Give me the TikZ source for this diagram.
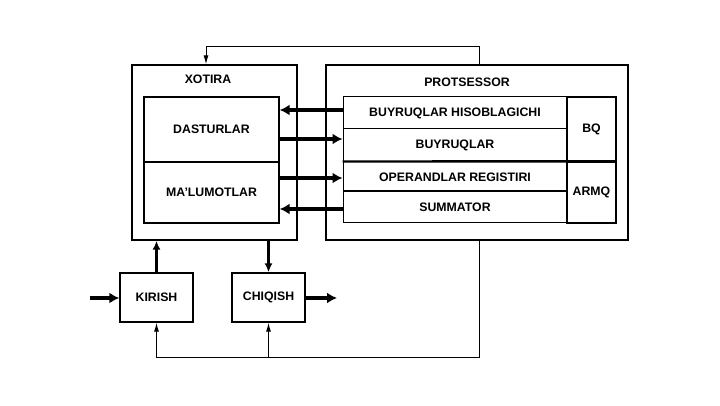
\documentclass[tikz,border=0pt]{standalone}
\usepackage{fontspec}
\setmainfont{Liberation Sans}
\usetikzlibrary{arrows.meta,positioning,calc}
\tikzset{%
  >={Latex[width=2mm,length=2mm]},
  % Specifications for style of nodes:
       base/.style = {rectangle, draw=black, inner sep=0pt,
                      text centered, font=\bfseries\fontsize{12.3}{14}\selectfont},
     outbox/.style = {base, line width=1.4pt},
      inbox/.style = {base, line width=1.3pt},
   blockbox/.style = {base, line width=1.4pt, minimum width=73pt, minimum height=49pt},
      title/.style = {inner sep=0pt, font=\bfseries\fontsize{12.3}{14}\selectfont},
  % Specifications for style of connectors:
        bus/.style = {line width=3.4pt, -{Latex[width=11pt,length=10pt]}},
     feeder/.style = {line width=2.8pt, -{Latex[width=8pt,length=9pt]}},
       link/.style = {line width=1pt, -{Latex[width=5pt,length=9pt]}},
}

\begin{document}
\begin{tikzpicture}[x=1pt, y=-1pt]
  \useasboundingbox[fill=white] (0,0) rectangle (720,406);
  % Specification of nodes (position, etc.)
  \node (xotira)  [outbox, minimum width=165pt, minimum height=175pt] at (214.5,152.5) {};
  \node (xottitle) [title] at (208,79) {XOTIRA};
  \node (dastur)  [inbox, minimum width=135pt, minimum height=65pt] at (211.5,129.5) {DASTURLAR};
  \node (malumot) [inbox, minimum width=135pt, minimum height=61pt] at (211.5,192.5) {MA'LUMOTLAR};

  \node (prots)   [outbox, minimum width=302pt, minimum height=175pt] at (477,152.5) {};
  \node (prottitle) [title] at (467,82) {PROTSESSOR};
  \node (bh)      [inbox, line width=1pt, minimum width=224pt, minimum height=32pt] at (455,113) {BUYRUQLAR HISOBLAGICHI};
  \node (buyr)    [inbox, line width=1pt, minimum width=224pt, minimum height=33pt] at (455,145.5) {BUYRUQLAR};
  \node (opreg)   [inbox, line width=1pt, minimum width=224pt, minimum height=30pt] at (455,177) {OPERANDLAR REGISTIRI};
  \node (summ)    [inbox, line width=1pt, minimum width=224pt, minimum height=31pt] at (455,207.5) {SUMMATOR};
  \node (bq)      [inbox, minimum width=49pt, minimum height=65pt] at (591.5,129.5) {BQ};
  \node (armq)    [inbox, minimum width=49pt, minimum height=61pt] at (591.5,192.5) {ARMQ};
  \draw[line width=2.4pt] (opreg.north west) -- (armq.north east);
  \draw[line width=2pt] (summ.north west) -- (summ.north east);

  \node (kirish)  [blockbox] at (156.5,297.5) {KIRISH};
  \node (chiqish) [blockbox] at (268.5,297.5) {CHIQISH};

  \coordinate (yuqori) at (479,47);
  \coordinate (pastki) at (479,357);
  \coordinate (kirishin) at (90,298);
  \coordinate (chiqishout) at (337,298);

  % Specification of lines between nodes specified above
  \draw[bus] ([yshift=3pt]bh.west) -- ([yshift=3pt]bh.west -| dastur.east);
  \draw[bus] ([yshift=6.5pt]buyr.west -| dastur.east) -- ([yshift=6.5pt]buyr.west);
  \draw[bus] ([yshift=-1pt]opreg.west -| malumot.east) -- ([yshift=-1pt]opreg.west);
  \draw[bus] ([yshift=-1.5pt]summ.west) -- ([yshift=-1.5pt]summ.west -| malumot.east);

  \draw[feeder] (kirish.north) -- (kirish.north |- xotira.south);
  \draw[feeder] (chiqish.north |- xotira.south) -- (chiqish.north);
  \draw[bus] (kirishin) -- (kirish.west |- kirishin);
  \draw[bus] (chiqish.east |- chiqishout) -- (chiqishout);

  \draw[link] (prots.north -| yuqori) -- (yuqori) -| ([xshift=-8.5pt]xotira.north);
  \draw[link] (prots.south -| pastki) -- (pastki) -| (kirish.south);
  \draw[link] (pastki -| chiqish.south) -- (chiqish.south);
\end{tikzpicture}
\end{document}
